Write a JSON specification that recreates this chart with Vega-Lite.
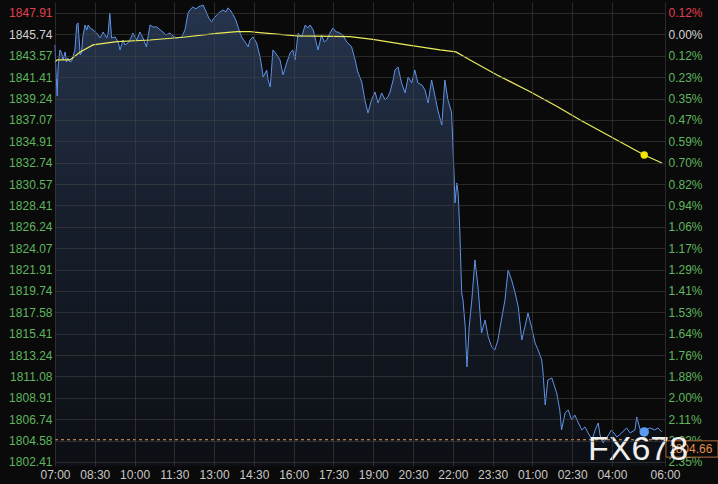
{
  "$schema": "https://vega.github.io/schema/vega-lite/v6.json",
  "width": 610,
  "height": 464,
  "autosize": {"type": "none"},
  "padding": {"left": 55, "right": 53, "top": 2, "bottom": 18},
  "background": "#0a0a0a",
  "config": {
    "view": {"stroke": null},
    "font": "Liberation Sans",
    "axis": {"title": null, "labelFont": "Liberation Sans", "labelFontSize": 12, "tickSize": 0, "domain": false, "gridColor": "#444444", "gridOpacity": 0.55, "gridWidth": 1}
  },
  "datasets": {
    "price": [
      {"m":0,"p":1844.67},{"m":2,"p":1842.13},{"m":5,"p":1839.50},{"m":7,"p":1842.44},{"m":11,"p":1844.16},{"m":15,"p":1843.86},{"m":18,"p":1843.15},{"m":23,"p":1843.96},{"m":26,"p":1842.94},{"m":29,"p":1843.35},{"m":34,"p":1842.94},{"m":38,"p":1843.05},{"m":41,"p":1843.55},{"m":45,"p":1844.16},{"m":49,"p":1846.69},{"m":52,"p":1846.90},{"m":57,"p":1843.65},{"m":60,"p":1843.86},{"m":63,"p":1845.48},{"m":68,"p":1846.69},{"m":72,"p":1846.19},{"m":75,"p":1846.69},{"m":79,"p":1846.39},{"m":86,"p":1846.19},{"m":94,"p":1845.88},{"m":102,"p":1845.38},{"m":109,"p":1845.98},{"m":117,"p":1845.38},{"m":120,"p":1845.78},{"m":124,"p":1847.91},{"m":128,"p":1845.38},{"m":136,"p":1845.48},{"m":143,"p":1844.97},{"m":147,"p":1844.16},{"m":154,"p":1845.17},{"m":158,"p":1844.67},{"m":165,"p":1844.87},{"m":172,"p":1845.38},{"m":176,"p":1845.88},{"m":185,"p":1845.17},{"m":192,"p":1845.98},{"m":199,"p":1845.38},{"m":207,"p":1844.47},{"m":210,"p":1845.38},{"m":215,"p":1846.69},{"m":222,"p":1846.49},{"m":230,"p":1846.49},{"m":238,"p":1846.19},{"m":244,"p":1845.98},{"m":251,"p":1845.68},{"m":260,"p":1845.88},{"m":267,"p":1845.58},{"m":275,"p":1845.38},{"m":287,"p":1845.48},{"m":294,"p":1846.19},{"m":301,"p":1847.91},{"m":305,"p":1848.21},{"m":312,"p":1848.52},{"m":319,"p":1848.32},{"m":324,"p":1848.52},{"m":330,"p":1848.62},{"m":335,"p":1848.72},{"m":343,"p":1847.91},{"m":348,"p":1847.40},{"m":354,"p":1847.00},{"m":360,"p":1847.40},{"m":366,"p":1847.71},{"m":373,"p":1848.01},{"m":380,"p":1848.21},{"m":387,"p":1848.01},{"m":391,"p":1848.42},{"m":398,"p":1848.11},{"m":403,"p":1847.71},{"m":409,"p":1847.20},{"m":414,"p":1846.49},{"m":422,"p":1845.48},{"m":430,"p":1844.97},{"m":437,"p":1844.47},{"m":441,"p":1845.17},{"m":448,"p":1845.48},{"m":456,"p":1844.87},{"m":464,"p":1843.45},{"m":468,"p":1842.34},{"m":471,"p":1841.42},{"m":479,"p":1842.13},{"m":482,"p":1841.12},{"m":487,"p":1840.41},{"m":493,"p":1844.16},{"m":502,"p":1843.65},{"m":509,"p":1843.15},{"m":516,"p":1841.63},{"m":524,"p":1842.84},{"m":532,"p":1843.86},{"m":538,"p":1844.16},{"m":543,"p":1843.15},{"m":550,"p":1845.88},{"m":558,"p":1845.48},{"m":566,"p":1846.69},{"m":572,"p":1846.39},{"m":577,"p":1846.69},{"m":584,"p":1846.19},{"m":588,"p":1845.48},{"m":595,"p":1844.16},{"m":603,"p":1845.68},{"m":609,"p":1844.97},{"m":615,"p":1845.17},{"m":622,"p":1845.88},{"m":629,"p":1846.39},{"m":636,"p":1845.98},{"m":640,"p":1845.98},{"m":651,"p":1845.68},{"m":660,"p":1844.97},{"m":667,"p":1844.67},{"m":671,"p":1844.47},{"m":679,"p":1843.15},{"m":685,"p":1841.93},{"m":694,"p":1840.92},{"m":701,"p":1839.09},{"m":708,"p":1837.78},{"m":716,"p":1839.09},{"m":724,"p":1839.90},{"m":731,"p":1838.79},{"m":739,"p":1839.80},{"m":747,"p":1839.09},{"m":753,"p":1839.40},{"m":758,"p":1839.90},{"m":765,"p":1841.12},{"m":769,"p":1842.13},{"m":776,"p":1842.44},{"m":784,"p":1840.82},{"m":792,"p":1839.80},{"m":799,"p":1841.42},{"m":807,"p":1840.82},{"m":814,"p":1842.13},{"m":821,"p":1840.82},{"m":830,"p":1840.61},{"m":837,"p":1840.11},{"m":844,"p":1838.79},{"m":852,"p":1841.12},{"m":860,"p":1839.40},{"m":866,"p":1838.08},{"m":875,"p":1836.56},{"m":882,"p":1841.12},{"m":889,"p":1839.09},{"m":897,"p":1837.88},{"m":900,"p":1834.74},{"m":903,"p":1831.29},{"m":905,"p":1828.66},{"m":909,"p":1830.68},{"m":912,"p":1829.67},{"m":916,"p":1825.62},{"m":920,"p":1819.53},{"m":923,"p":1818.83},{"m":928,"p":1816.09},{"m":932,"p":1812.04},{"m":937,"p":1816.09},{"m":943,"p":1818.83},{"m":950,"p":1822.88},{"m":957,"p":1820.14},{"m":965,"p":1815.48},{"m":973,"p":1816.80},{"m":980,"p":1815.08},{"m":988,"p":1814.06},{"m":995,"p":1813.76},{"m":1002,"p":1814.77},{"m":1011,"p":1817.10},{"m":1018,"p":1818.83},{"m":1025,"p":1821.87},{"m":1033,"p":1820.85},{"m":1041,"p":1819.53},{"m":1048,"p":1818.12},{"m":1056,"p":1814.77},{"m":1063,"p":1816.09},{"m":1070,"p":1817.51},{"m":1078,"p":1816.09},{"m":1086,"p":1814.47},{"m":1093,"p":1813.76},{"m":1101,"p":1812.75},{"m":1104,"p":1811.53},{"m":1109,"p":1808.18},{"m":1115,"p":1810.72},{"m":1124,"p":1810.92},{"m":1135,"p":1809.40},{"m":1142,"p":1807.68},{"m":1146,"p":1805.65},{"m":1154,"p":1807.37},{"m":1161,"p":1807.68},{"m":1169,"p":1806.66},{"m":1176,"p":1807.17},{"m":1183,"p":1806.46},{"m":1192,"p":1805.65},{"m":1199,"p":1805.96},{"m":1206,"p":1805.35},{"m":1215,"p":1804.64},{"m":1222,"p":1805.65},{"m":1229,"p":1806.36},{"m":1233,"p":1805.14},{"m":1240,"p":1804.33},{"m":1248,"p":1804.84},{"m":1259,"p":1805.65},{"m":1271,"p":1804.94},{"m":1282,"p":1805.35},{"m":1293,"p":1805.86},{"m":1301,"p":1805.35},{"m":1312,"p":1805.65},{"m":1316,"p":1806.97},{"m":1324,"p":1805.65},{"m":1335,"p":1805.65},{"m":1346,"p":1805.86},{"m":1357,"p":1805.65},{"m":1364,"p":1805.86},{"m":1373,"p":1805.45}
    ],
    "avg": [
      {"m":0,"avg":1842.94},{"m":5,"avg":1843.15},{"m":34,"avg":1843.15},{"m":57,"avg":1843.96},{"m":86,"avg":1844.67},{"m":140,"avg":1845.0},{"m":215,"avg":1845.17},{"m":290,"avg":1845.45},{"m":366,"avg":1845.85},{"m":412,"avg":1846.01},{"m":441,"avg":1846.01},{"m":547,"avg":1845.58},{"m":667,"avg":1845.51},{"m":719,"avg":1845.24},{"m":796,"avg":1844.67},{"m":871,"avg":1844.16},{"m":907,"avg":1843.96},{"m":939,"avg":1843.15},{"m":1000,"avg":1841.63},{"m":1075,"avg":1839.93},{"m":1136,"avg":1838.43},{"m":1188,"avg":1837.07},{"m":1333,"avg":1833.52},{"m":1373,"avg":1832.71}
    ],
    "dots": [
      {"m":1333,"v":1833.52,"series":"avg"},
      {"m":1333,"v":1805.45,"series":"price"}
    ],
    "last": [{"price":1804.66}],
    "mark": [{"label":"FX678"}]
  },
  "layer": [
    {
      "data": {"name": "price"},
      "mark": {"type": "area", "fill": {"gradient": "linear", "x1": 0, "y1": 0, "x2": 0, "y2": 1, "stops": [{"offset": 0, "color": "#25344d"}, {"offset": 0.5, "color": "#161d2a"}, {"offset": 1, "color": "#0c0f14"}]}},
      "encoding": {
        "x": {"field": "m", "type": "quantitative", "scale": {"domain": [0, 1380], "nice": false, "zero": false},
          "axis": {"values": [0,90,180,270,360,450,540,630,720,810,900,990,1080,1170,1260,1380], "labelExpr": "timeFormat(datetime(2020,0,1,7,datum.value), '%H:%M')", "labelColor": "#c8c8c8", "labelPadding": 3, "labelFlush": false, "labelOverlap": false, "grid": true, "zindex": 1}},
        "y": {"field": "p", "type": "quantitative", "scale": {"domain": [1802.0, 1849.02], "nice": false, "zero": false},
          "axis": {"orient": "left", "values": [1847.91,1845.74,1843.57,1841.41,1839.24,1837.07,1834.91,1832.74,1830.57,1828.41,1826.24,1824.07,1821.91,1819.74,1817.58,1815.41,1813.24,1811.08,1808.91,1806.74,1804.58,1802.41], "format": ".2f", "labelPadding": 3, "labelOverlap": false, "labelFlush": false, "grid": true, "zindex": 1,
            "labelColor": {"condition": [{"test": "datum.value > 1846.5", "value": "#e0404e"}, {"test": "datum.value > 1845", "value": "#d2d2d2"}], "value": "#5fb65f"}}},
        "y2": {"datum": 1802.0}
      }
    },
    {
      "data": {"name": "price"},
      "mark": {"type": "line", "color": "#5e93e8", "strokeWidth": 1},
      "encoding": {
        "x": {"field": "m", "type": "quantitative"},
        "y": {"field": "p", "type": "quantitative",
          "axis": {"orient": "right", "values": [1847.91,1845.74,1843.57,1841.41,1839.24,1837.07,1834.91,1832.74,1830.57,1828.41,1826.24,1824.07,1821.91,1819.74,1817.58,1815.41,1813.24,1811.08,1808.91,1806.74,1804.58,1802.41], "labelExpr": "format(abs(datum.value-1845.74)/1845.74*100, '.2f') + '%'", "labelPadding": 3, "labelOverlap": false, "labelFlush": false, "grid": false, "zindex": 0,
            "labelColor": {"condition": [{"test": "datum.value > 1846.5", "value": "#e0404e"}, {"test": "datum.value > 1845", "value": "#d2d2d2"}], "value": "#5fb65f"}}}
      }
    },
    {
      "data": {"name": "avg"},
      "mark": {"type": "line", "color": "#ecec5a", "strokeWidth": 1.2},
      "encoding": {
        "x": {"field": "m", "type": "quantitative"},
        "y": {"field": "avg", "type": "quantitative", "axis": null}
      }
    },
    {
      "data": {"name": "last"},
      "mark": {"type": "rule", "color": "#e8a060", "strokeDash": [3, 3], "strokeWidth": 1},
      "encoding": {
        "x": {"datum": 0},
        "x2": {"datum": 1380},
        "y": {"field": "price", "type": "quantitative", "axis": null}
      }
    },
    {
      "data": {"name": "dots"},
      "mark": {"type": "point", "filled": true, "opacity": 1},
      "encoding": {
        "x": {"field": "m", "type": "quantitative"},
        "y": {"field": "v", "type": "quantitative", "axis": null},
        "color": {"field": "series", "type": "nominal", "scale": {"domain": ["avg", "price"], "range": ["#f5e400", "#5b9cf0"]}, "legend": null},
        "size": {"field": "series", "type": "nominal", "scale": {"domain": ["avg", "price"], "range": [55, 90]}, "legend": null}
      }
    },
    {
      "data": {"name": "last"},
      "mark": {"type": "rect", "fill": "#0a0a0a", "stroke": "#b86a3c", "strokeWidth": 1, "clip": false},
      "encoding": {
        "x": {"datum": 1382},
        "x2": {"datum": 1500},
        "y": {"datum": 1804.55, "axis": null},
        "y2": {"datum": 1802.9}
      }
    },
    {
      "data": {"name": "last"},
      "mark": {"type": "text", "color": "#e09050", "fontSize": 12, "align": "left", "baseline": "middle", "clip": false},
      "encoding": {
        "x": {"datum": 1389},
        "y": {"datum": 1803.72, "axis": null},
        "text": {"field": "price", "type": "quantitative", "format": ".2f"}
      }
    },
    {
      "data": {"name": "mark"},
      "mark": {"type": "text", "color": "#ffffff", "opacity": 0.93, "fontSize": 34, "align": "center", "baseline": "alphabetic", "clip": false},
      "encoding": {
        "x": {"datum": 1319},
        "y": {"datum": 1802.61, "axis": null},
        "text": {"field": "label", "type": "nominal"}
      }
    }
  ],
  "resolve": {"axis": {"y": "independent"}}
}
